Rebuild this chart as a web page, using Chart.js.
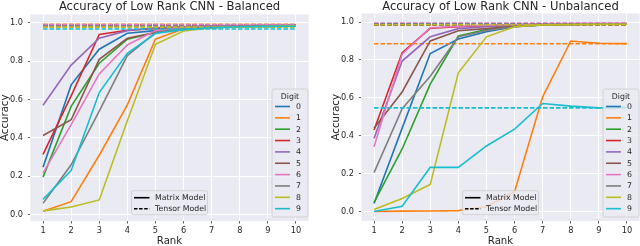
<!DOCTYPE html>
<html>
<head>
<meta charset="utf-8">
<script src="https://cdn.jsdelivr.net/npm/chart.js@4.4.0/dist/chart.umd.min.js"></script>
<style>
body { margin: 0; background: #fff; }
.wrap { position: absolute; top: 0; width: 320px; height: 246px; }
</style>
</head>
<body>
<div class="wrap" style="left:0"><canvas id="balanced" width="320" height="246"></canvas></div>
<div class="wrap" style="left:320px"><canvas id="unbalanced" width="320" height="246"></canvas></div>
<script>
const ranks = [1, 2, 3, 4, 5, 6, 7, 8, 9, 10]
const yTicks = [0, 0.2, 0.4, 0.6, 0.8, 1.0]
const digits = ['0', '1', '2', '3', '4', '5', '6', '7', '8', '9']
const colors = ['#1f77b4', '#ff7f0e', '#2ca02c', '#d62728', '#9467bd',
                '#8c564b', '#e377c2', '#7f7f7f', '#bcbd22', '#17becf']

// matrix model accuracy per digit, one value per rank
const balancedMatrix = [
    [0.248, 0.677, 0.863, 0.946, 0.960, 0.975, 0.980, 0.983, 0.985, 0.985],
    [0.018, 0.068, 0.310, 0.573, 0.915, 0.970, 0.978, 0.982, 0.985, 0.985],
    [0.196, 0.565, 0.790, 0.915, 0.950, 0.965, 0.975, 0.980, 0.982, 0.983],
    [0.314, 0.620, 0.940, 0.962, 0.970, 0.978, 0.982, 0.985, 0.987, 0.988],
    [0.571, 0.780, 0.920, 0.960, 0.975, 0.980, 0.985, 0.987, 0.988, 0.988],
    [0.413, 0.495, 0.810, 0.920, 0.950, 0.970, 0.978, 0.982, 0.985, 0.985],
    [0.217, 0.470, 0.734, 0.885, 0.960, 0.975, 0.980, 0.984, 0.986, 0.987],
    [0.060, 0.260, 0.540, 0.830, 0.950, 0.970, 0.978, 0.982, 0.985, 0.986],
    [0.020, 0.040, 0.077, 0.490, 0.889, 0.958, 0.975, 0.980, 0.983, 0.985],
    [0.080, 0.230, 0.637, 0.842, 0.945, 0.965, 0.975, 0.980, 0.982, 0.983]
]
const balancedTensor = [0.990, 0.993, 0.985, 0.988, 0.982, 0.986, 0.990, 0.984, 0.978, 0.968]

const unbalancedMatrix = [
    [0.042, 0.440, 0.834, 0.910, 0.949, 0.975, 0.985, 0.988, 0.990, 0.990],
    [0.000, 0.002, 0.003, 0.005, 0.025, 0.104, 0.605, 0.900, 0.888, 0.886],
    [0.048, 0.330, 0.672, 0.926, 0.960, 0.978, 0.985, 0.988, 0.990, 0.990],
    [0.430, 0.838, 0.967, 0.975, 0.980, 0.985, 0.988, 0.990, 0.990, 0.990],
    [0.386, 0.794, 0.922, 0.965, 0.975, 0.982, 0.986, 0.988, 0.990, 0.990],
    [0.440, 0.631, 0.900, 0.954, 0.965, 0.978, 0.985, 0.987, 0.988, 0.988],
    [0.342, 0.830, 0.970, 0.978, 0.983, 0.987, 0.990, 0.992, 0.993, 0.993],
    [0.205, 0.543, 0.714, 0.922, 0.955, 0.975, 0.984, 0.987, 0.988, 0.989],
    [0.011, 0.069, 0.143, 0.732, 0.922, 0.975, 0.985, 0.987, 0.988, 0.988],
    [0.000, 0.028, 0.233, 0.233, 0.346, 0.435, 0.570, 0.556, 0.547, 0.549]
]
const unbalancedTensor = [0.990, 0.885, 0.988, 0.985, 0.990, 0.984, 0.995, 0.990, 0.986, 0.547]

Chart.defaults.font.family = '"DejaVu Sans", sans-serif'
Chart.defaults.color = '#262626'

const txt = '#262626'
const dash = [4.5, 2]

function legendBox(ctx, x, y, w, h) {
    ctx.beginPath()
    ctx.roundRect(x, y, w, h, 2)
    ctx.fillStyle = 'rgba(234,234,242,0.8)'
    ctx.fill()
    ctx.strokeStyle = '#cccccc'
    ctx.lineWidth = 0.8
    ctx.stroke()
}

const decor = {
    id: 'decor',
    beforeDraw(chart) {
        const { ctx, chartArea: a } = chart
        ctx.save()
        ctx.fillStyle = '#eaeaf2'
        ctx.fillRect(a.left, a.top, a.right - a.left, a.bottom - a.top)
        ctx.restore()
    },
    afterDraw(chart, args, opts) {
        const { ctx, chartArea: a } = chart
        const cx = (a.left + a.right) / 2
        ctx.save()
        ctx.fillStyle = txt
        ctx.textAlign = 'center'
        ctx.textBaseline = 'alphabetic'
        ctx.font = '11.6px "DejaVu Sans"'
        ctx.fillText(opts.title, cx, 9.8)
        ctx.font = '10.2px "DejaVu Sans"'
        ctx.fillText('Rank', cx, 243.5)
        ctx.save()
        ctx.translate(a.left - 22.6, (a.top + a.bottom) / 2)
        ctx.rotate(-Math.PI / 2)
        ctx.fillText('Accuracy', 0, 0)
        ctx.restore()

        // digit legend, lower right
        const bw = 36, bh = 128
        const bx = a.right - 0.6 - bw
        const by = a.bottom - 4 - bh
        legendBox(ctx, bx, by, bw, bh)
        ctx.font = '7.8px "DejaVu Sans"'
        ctx.textBaseline = 'middle'
        ctx.fillStyle = txt
        ctx.fillText('Digit', bx + bw / 2, by + 7.5)
        ctx.textAlign = 'left'
        ctx.lineWidth = 1.6
        digits.forEach((d, i) => {
            const y = by + 17.5 + i * 11.35
            ctx.strokeStyle = colors[i]
            ctx.beginPath()
            ctx.moveTo(bx + 3, y)
            ctx.lineTo(bx + 18, y)
            ctx.stroke()
            ctx.fillText(d, bx + 24, y + 0.5)
        })

        // model legend, lower center
        const mw = 76, mh = 24
        const mx = cx - mw / 2
        const my = a.bottom - 6.3 - mh
        legendBox(ctx, mx, my, mw, mh)
        ctx.strokeStyle = '#000'
        ctx.fillStyle = txt
        ctx.lineWidth = 1.6
        ;['Matrix Model', 'Tensor Model'].forEach((label, i) => {
            const y = my + 7 + i * 11
            ctx.setLineDash(i ? [3.5, 1.6] : [])
            ctx.beginPath()
            ctx.moveTo(mx + 2.5, y)
            ctx.lineTo(mx + 18, y)
            ctx.stroke()
            ctx.fillText(label, mx + 23.5, y + 0.5)
        })
        ctx.restore()
    }
}

function makeChart(id, title, matrix, tensor, yMin, yMax, top, yWidth, padRight) {
    let datasets = []
    digits.forEach((d, i) => {
        datasets.push({
            label: d + ' matrix',
            data: ranks.map((r, j) => ({ x: r, y: matrix[i][j] })),
            borderColor: colors[i],
            borderWidth: 1.6
        })
        datasets.push({
            label: d + ' tensor',
            data: [{ x: ranks[0], y: tensor[i] }, { x: ranks[ranks.length - 1], y: tensor[i] }],
            borderColor: colors[i],
            borderWidth: 1.6,
            borderDash: dash
        })
    })
    // matplotlib draws later lines on top
    datasets = datasets.reverse()

    return new Chart(document.getElementById(id), {
        type: 'line',
        data: { datasets },
        plugins: [decor],
        options: {
            responsive: false,
            animation: false,
            layout: { padding: { top: top, right: padRight, left: 0, bottom: 0 } },
            elements: { point: { radius: 0 }, line: { tension: 0 } },
            plugins: {
                legend: { display: false },
                tooltip: { enabled: false },
                decor: { title }
            },
            scales: {
                x: {
                    type: 'linear',
                    min: 0.55,
                    max: 10.45,
                    afterBuildTicks: s => { s.ticks = ranks.map(v => ({ value: v })) },
                    afterFit: s => { s.height = 25 },
                    ticks: { font: { size: 8.2 }, padding: 2.5, maxRotation: 0, autoSkip: false, color: txt },
                    grid: { color: '#ffffff', lineWidth: 1, tickLength: 2.5, tickColor: '#666' },
                    border: { display: false }
                },
                y: {
                    min: yMin,
                    max: yMax,
                    afterBuildTicks: s => { s.ticks = yTicks.map(v => ({ value: v })) },
                    afterFit: s => { s.width = yWidth },
                    ticks: { font: { size: 8.2 }, padding: 5, color: txt, callback: v => v.toFixed(1) },
                    grid: { color: '#ffffff', lineWidth: 1, tickLength: 2.5, tickColor: '#666' },
                    border: { display: false }
                }
            }
        }
    })
}

makeChart('balanced', 'Accuracy of Low Rank CNN - Balanced',
    balancedMatrix, balancedTensor, -0.033, 1.044, 14.5, 30.4, 11.4)
makeChart('unbalanced', 'Accuracy of Low Rank CNN - Unbalanced',
    unbalancedMatrix, unbalancedTensor, -0.05, 1.045, 13.5, 41.4, 0.4)
</script>
</body>
</html>
